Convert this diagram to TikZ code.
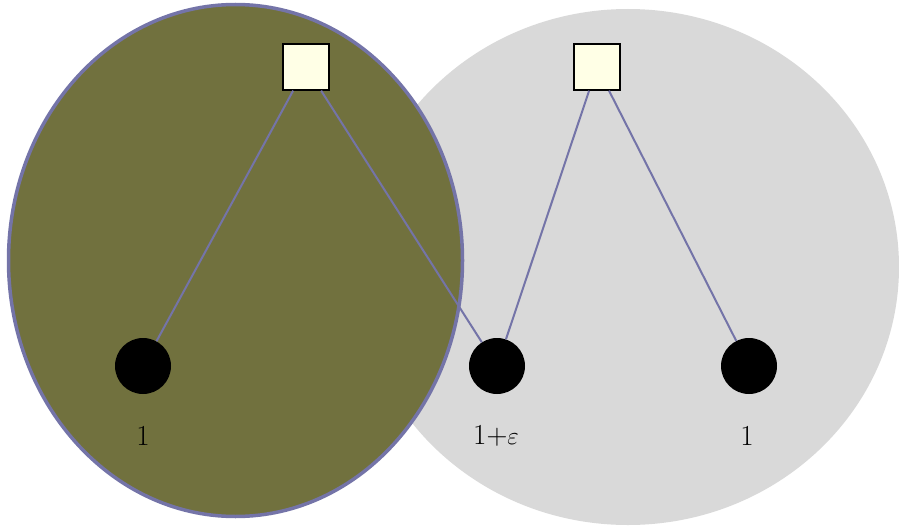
\documentclass[tikz,border=0pt]{standalone}
\usetikzlibrary{shapes.geometric}
\definecolor{edgeblue}{RGB}{116,116,168}
\definecolor{olivefill}{RGB}{113,113,62}
\definecolor{grayfill}{RGB}{217,217,217}
\definecolor{boxfill}{RGB}{255,255,230}
\tikzset{
  sq/.style={draw=black, line width=1.3pt, fill=boxfill, minimum size=46pt, inner sep=0pt},
  dot/.style={circle, fill=black, minimum size=56pt, inner sep=0pt},
  lbl/.style={font=\fontsize{29}{34}\selectfont},
  conn/.style={draw=edgeblue, line width=2pt},
}
\begin{document}
\begin{tikzpicture}[x=1pt,y=-1pt]
\useasboundingbox (0,0) rectangle (899,527);
\fill[grayfill] (628,267) ellipse [x radius=271, y radius=258];
\draw[draw=edgeblue, fill=olivefill, line width=3.5pt] (235.5,260.5) ellipse [x radius=227, y radius=256];
\node[sq] (s1) at (306,67) {};
\node[sq] (s2) at (597,67) {};
\node[dot] (c1) at (143,366) {};
\node[dot] (c2) at (497,366) {};
\node[dot] (c3) at (749,366) {};
\node[lbl] (l1) at (143,436) {1};
\node[lbl] (l2) at (496,436) {1+$\varepsilon$};
\node[lbl] (l3) at (747,436) {1};
\draw[conn] (s1) -- (c1);
\draw[conn] (s1) -- (c2);
\draw[conn] (s2) -- (c2);
\draw[conn] (s2) -- (c3);
\end{tikzpicture}
\end{document}
